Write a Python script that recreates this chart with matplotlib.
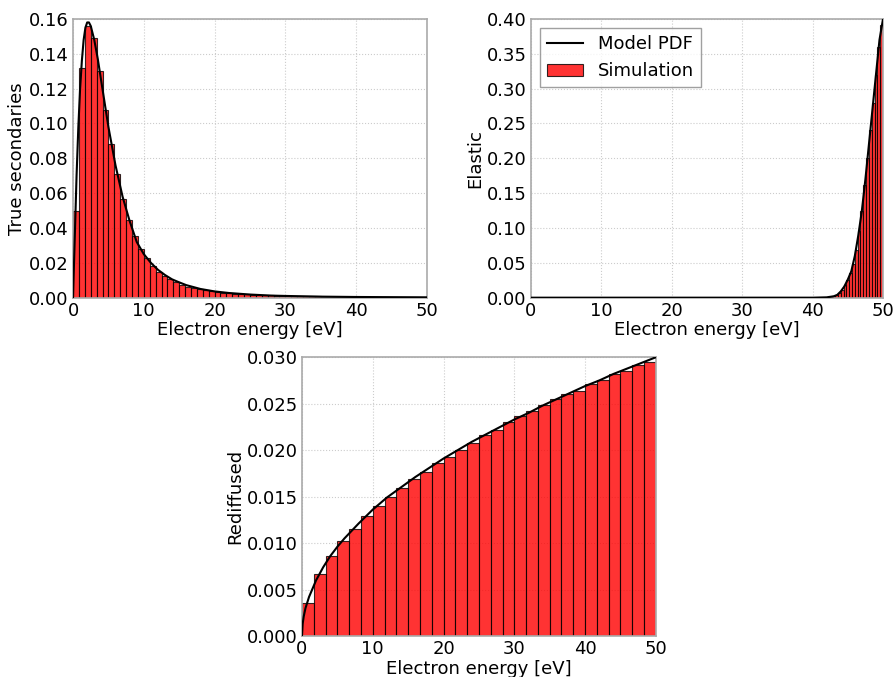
import numpy as np
import matplotlib
matplotlib.use('Agg')
import matplotlib.pyplot as plt

# True secondaries: 60 bins over 0..50 eV
ts_edges = np.linspace(0, 50, 61)
ts_counts = [0.0496, 0.1317, 0.156, 0.149, 0.130, 0.108, 0.088, 0.071, 0.0565, 0.0446,
             0.0354, 0.0278, 0.0226, 0.0180, 0.0150, 0.0125, 0.0105, 0.0088, 0.0075, 0.0064,
             0.0055, 0.0048, 0.0042, 0.0037, 0.0033, 0.0029, 0.0026, 0.0023, 0.0021, 0.0019,
             0.0017, 0.0015, 0.0014, 0.0013, 0.0012, 0.0011, 0.0010, 0.0009, 0.00085, 0.0008,
             0.00075, 0.0007, 0.00065, 0.0006, 0.00055, 0.0005, 0.00048, 0.00045, 0.00042, 0.0004,
             0.00037, 0.00035, 0.00033, 0.0003, 0.00028, 0.00026, 0.00025, 0.00023, 0.00022, 0.0002]
ts_model_E = [0, 0.25, 0.5, 0.75, 1, 1.25, 1.5, 1.75, 2, 2.25, 2.5, 3, 3.5, 4, 5, 6, 7, 8, 9, 10,
              11, 12, 13, 14, 15, 16, 18, 20, 22, 25, 28, 30, 35, 40, 45, 50]
ts_model = [0, 0.035, 0.07, 0.098, 0.12, 0.136, 0.148, 0.155, 0.158, 0.158, 0.156, 0.148, 0.137,
            0.124, 0.098, 0.076, 0.058, 0.044, 0.032, 0.025, 0.020, 0.016, 0.013, 0.0105, 0.0088,
            0.0072, 0.0050, 0.0036, 0.0027, 0.0018, 0.0012, 0.0010, 0.0006, 0.0004, 0.0003, 0.0002]

# Elastic: 0.4 eV bins from 42 to 50 eV
el_edges = np.linspace(42, 50, 21)
el_counts = [0.0006, 0.0012, 0.002, 0.0036, 0.007, 0.011, 0.018, 0.026, 0.036, 0.048,
             0.068, 0.096, 0.125, 0.161, 0.200, 0.240, 0.280, 0.320, 0.360, 0.392]
el_model_E = [0, 40, 42, 43, 43.5, 44, 44.5, 45, 45.5, 46, 46.5, 47, 47.5, 48, 48.5, 49, 49.5, 50]
el_model = [0, 0, 0.0005, 0.002, 0.004, 0.009, 0.016, 0.026, 0.038, 0.06, 0.09, 0.125, 0.17,
            0.22, 0.27, 0.32, 0.37, 0.40]

# Rediffused: 30 bins over 0..50 eV
rd_edges = np.linspace(0, 50, 31)
rd_counts = [0.00352, 0.00664, 0.00858, 0.01019, 0.01148, 0.01292, 0.01400, 0.01496, 0.01590,
             0.01690, 0.01769, 0.01859, 0.01923, 0.02002, 0.02074, 0.0216, 0.0222, 0.0230,
             0.02364, 0.02418, 0.02489, 0.0255, 0.02604, 0.0264, 0.02711, 0.02757, 0.02821,
             0.02857, 0.02918, 0.02954]
rd_model_E = [0, 0.1, 0.25, 0.5, 1, 2, 3, 4, 5, 6, 8, 10, 12, 14, 16, 18, 20, 22, 24, 26, 28,
              30, 32, 34, 36, 38, 40, 42, 44, 46, 48, 50]
rd_model = [0, 0.0013, 0.0021, 0.003, 0.0042, 0.006, 0.0074, 0.0086, 0.0096, 0.0105, 0.0121,
            0.0136, 0.0149, 0.0160, 0.0171, 0.0181, 0.0191, 0.0200, 0.0209, 0.0217, 0.0225,
            0.0233, 0.0240, 0.0248, 0.0255, 0.0262, 0.0269, 0.0275, 0.0282, 0.0288, 0.0294, 0.030]

plt.rcParams['font.family'] = 'DejaVu Sans'
plt.rcParams['font.size'] = 13

fig = plt.figure(figsize=(8.96, 6.77), dpi=100)
ax1 = fig.add_axes([0.0815, 0.5603, 0.395, 0.4117])
ax2 = fig.add_axes([0.5926, 0.5603, 0.3929, 0.4117])
ax3 = fig.add_axes([0.337, 0.0606, 0.395, 0.4117])


def draw(ax, edges, counts, mE, m, ylabel, ymax, fmt):
    edges = np.asarray(edges)
    ax.bar(edges[:-1], counts, width=np.diff(edges), align='edge', color='red',
           alpha=0.8, edgecolor='black', linewidth=0.8, label='Simulation', zorder=2)
    ax.plot(mE, m, color='black', lw=1.5, label='Model PDF', zorder=3)
    ax.set_xlim(0, 50)
    ax.set_ylim(0, ymax)
    ax.set_xticks([0, 10, 20, 30, 40, 50])
    ax.yaxis.set_major_formatter(matplotlib.ticker.FormatStrFormatter(fmt))
    ax.set_xlabel('Electron energy [eV]', labelpad=1)
    ax.set_ylabel(ylabel, labelpad=2)
    ax.grid(True, color='#cccccc', linestyle=':', linewidth=0.8, zorder=0)
    ax.set_axisbelow(True)
    ax.tick_params(direction='in', length=0, pad=3, labelsize=13)
    for s in ax.spines.values():
        s.set_color('#aaaaaa')
        s.set_linewidth(1.2)


draw(ax1, ts_edges, ts_counts, ts_model_E, ts_model, 'True secondaries', 0.16, '%.2f')
draw(ax2, el_edges, el_counts, el_model_E, el_model, 'Elastic', 0.40, '%.2f')
draw(ax3, rd_edges, rd_counts, rd_model_E, rd_model, 'Rediffused', 0.030, '%.3f')
ax1.set_yticks(np.arange(0, 0.161, 0.02))
ax2.set_yticks(np.arange(0, 0.401, 0.05))
ax3.set_yticks(np.arange(0, 0.0301, 0.005))

leg = ax2.legend(loc='upper left', fancybox=False, fontsize=13)
leg.get_frame().set_edgecolor('#888888')

fig.savefig('out.png', dpi=100)
